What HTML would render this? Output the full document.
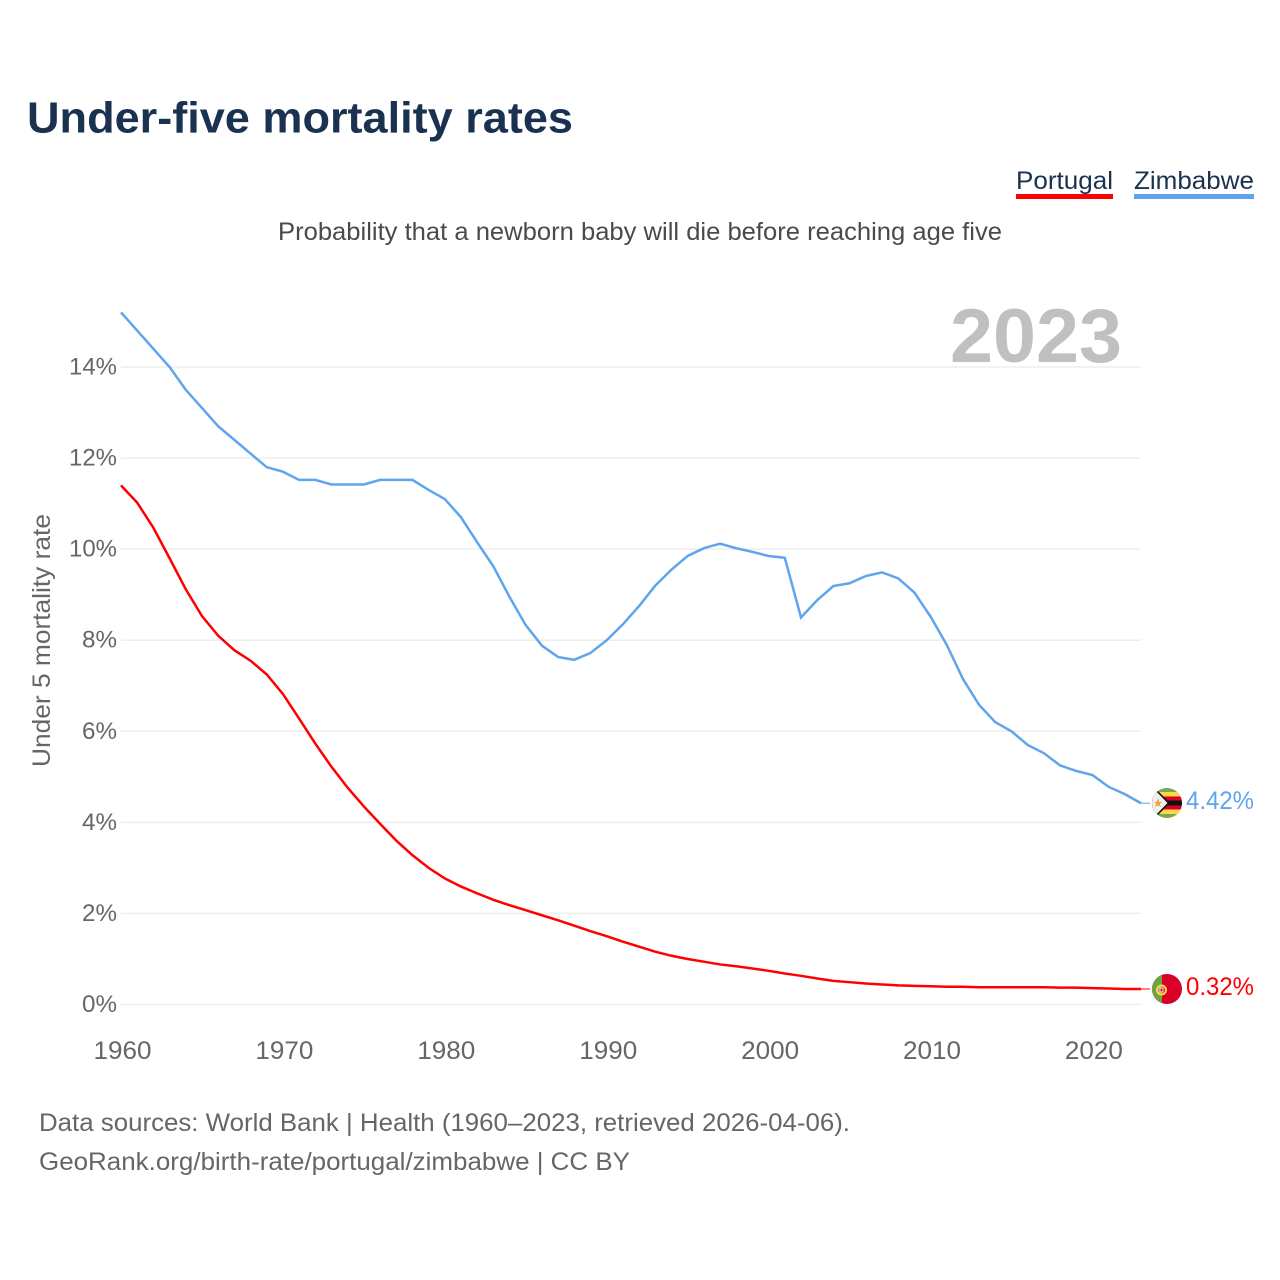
<!DOCTYPE html>
<html lang="en">
<head>
<meta charset="utf-8">
<title>Under-five mortality rates</title>
<style>
html,body{margin:0;padding:0;background:#fff;}
svg{display:block;font-family:"Liberation Sans",sans-serif;}
</style>
</head>
<body>
<svg id="chart" xmlns="http://www.w3.org/2000/svg" width="1280" height="1280" viewBox="0 0 1280 1280">
  <defs>
    <clipPath id="flag-clip-zw"><circle cx="1167" cy="803" r="15"/></clipPath>
    <clipPath id="flag-clip-pt"><circle cx="1167" cy="989" r="15"/></clipPath>
  </defs>
  <rect width="1280" height="1280" fill="#fff"/>
  <text x="27" y="132.500" font-size="44" font-weight="700" fill="#1a3150" textLength="546" lengthAdjust="spacingAndGlyphs">Under-five mortality rates</text>
  <g>
    <text x="1016" y="189" font-size="25" fill="#1a3150" textLength="97" lengthAdjust="spacingAndGlyphs">Portugal</text>
    <rect x="1016" y="194" width="97" height="5" fill="#ff0000"/>
  </g>
  <g>
    <text x="1134" y="189" font-size="25" fill="#1a3150" textLength="120" lengthAdjust="spacingAndGlyphs">Zimbabwe</text>
    <rect x="1134" y="194" width="120" height="5" fill="#5fa5ee"/>
  </g>
  <text x="278" y="240" font-size="25" fill="#4a4a4a" textLength="724" lengthAdjust="spacingAndGlyphs">Probability that a newborn baby will die before reaching age five</text>
  <g id="grid"></g>
  <text x="950" y="362" font-size="76" font-weight="700" fill="#c0c0c0" textLength="172" lengthAdjust="spacingAndGlyphs">2023</text>
  <g id="y-ticks"></g>
  <g id="x-ticks"></g>
  <text transform="translate(50,767) rotate(-90)" font-size="25" fill="#666" textLength="253" lengthAdjust="spacingAndGlyphs">Under 5 mortality rate</text>
  <g id="series"></g>

  <g clip-path="url(#flag-clip-zw)">
    <rect x="1152" y="788" width="30" height="30" fill="#78a84e"/>
    <rect x="1152" y="792" width="30" height="4.500" fill="#ffd84a"/>
    <rect x="1152" y="796.500" width="30" height="4" fill="#d80027"/>
    <rect x="1152" y="800.500" width="30" height="5" fill="#111"/>
    <rect x="1152" y="805.500" width="30" height="4" fill="#d80027"/>
    <rect x="1152" y="809.500" width="30" height="4.500" fill="#ffd84a"/>
    <polygon points="1152,786 1153,786 1170,803 1153,820 1152,820" fill="#111"/>
    <polygon points="1150,786 1151,786 1167.500,803 1151,820 1150,820" fill="#f0f0f0"/>
    <polygon points="1158,798.500 1159.300,801.700 1162,802 1159.800,803.900 1160.800,807 1158,805.400 1155.200,807 1156.200,803.900 1154,802 1156.700,801.700" fill="#f2a33a"/>
  </g>
  <g clip-path="url(#flag-clip-pt)">
    <rect x="1152" y="974" width="30" height="30" fill="#d80027"/>
    <rect x="1152" y="974" width="10" height="30" fill="#6da544"/>
    <circle cx="1161.500" cy="990" r="4.500" fill="none" stroke="#ffda44" stroke-width="2"/>
    <rect x="1160" y="988" width="3" height="4" fill="#d80027" stroke="#f0f0f0" stroke-width="1"/>
  </g>
  <text x="1186" y="809" font-size="25" fill="#5fa5ee" textLength="68" lengthAdjust="spacingAndGlyphs">4.42%</text>
  <text x="1186" y="995" font-size="25" fill="#ff0000" textLength="68" lengthAdjust="spacingAndGlyphs">0.32%</text>

  <text x="39" y="1131" font-size="25" fill="#666" textLength="811" lengthAdjust="spacingAndGlyphs">Data sources: World Bank | Health (1960–2023, retrieved 2026-04-06).</text>
  <text x="39" y="1170" font-size="25" fill="#666" textLength="591" lengthAdjust="spacingAndGlyphs">GeoRank.org/birth-rate/portugal/zimbabwe | CC BY</text>
</svg>
<script>
const startYear = 1960;
const yTickValues = [0, 2, 4, 6, 8, 10, 12, 14];
const xTickValues = [1960, 1970, 1980, 1990, 2000, 2010, 2020];
const zimbabweValues = [15.2,14.8,14.4,14.0,13.5,13.1,12.7,12.4,12.1,11.8,
  11.7,11.52,11.52,11.42,11.42,11.42,11.52,11.52,11.52,11.3,
  11.1,10.7,10.15,9.62,8.95,8.33,7.88,7.63,7.57,7.72,
  8.0,8.35,8.75,9.2,9.55,9.85,10.02,10.12,10.02,9.94,
  9.85,9.81,8.5,8.88,9.19,9.25,9.41,9.49,9.36,9.05,
  8.52,7.9,7.15,6.58,6.2,6.0,5.7,5.52,5.25,5.13,
  5.04,4.78,4.62,4.42];
const portugalValues = [11.4,11.02,10.47,9.8,9.12,8.53,8.1,7.78,7.55,7.25,
  6.82,6.28,5.73,5.22,4.76,4.35,3.97,3.6,3.28,3.0,
  2.77,2.59,2.44,2.3,2.18,2.07,1.96,1.85,1.73,1.61,
  1.5,1.38,1.27,1.16,1.07,1.0,0.94,0.88,0.84,0.79,
  0.74,0.68,0.63,0.57,0.52,0.49,0.46,0.44,0.42,0.41,
  0.4,0.39,0.39,0.38,0.38,0.38,0.38,0.38,0.37,0.37,
  0.36,0.35,0.34,0.34];

const NS = 'http://www.w3.org/2000/svg';
function xScale(year) { return 121 + (year - 1960) * (1141 - 121) / 63; }
function yScale(value) { return 1004.5 - value * (1004.5 - 367) / 14; }
function make(tag, parentId) {
  const el = document.createElementNS(NS, tag);
  document.getElementById(parentId).appendChild(el);
  return el;
}

yTickValues.forEach(function (v) {
  const line = make('line', 'grid');
  
  
  line.setAttribute('x1', 121);
  line.setAttribute('x2', 1141);
  line.setAttribute('y1', yScale(v));
  line.setAttribute('y2', yScale(v));
  line.setAttribute('stroke', '#eeeeee');
  line.setAttribute('stroke-width', '1.5');

  const label = make('text', 'y-ticks');
  
  
  label.setAttribute('x', 117);
  label.setAttribute('y', yScale(v) + 7.5);
  label.setAttribute('text-anchor', 'end');
  label.setAttribute('font-size', '24');
  label.setAttribute('fill', '#666');
  label.setAttribute('textLength', v >= 10 ? 48 : 35);
  label.setAttribute('lengthAdjust', 'spacingAndGlyphs');
  label.textContent = v + '%';
});

xTickValues.forEach(function (year) {
  const label = make('text', 'x-ticks');
  
  
  label.setAttribute('x', xScale(year) + 1.5);
  label.setAttribute('y', 1059);
  label.setAttribute('text-anchor', 'middle');
  label.setAttribute('font-size', '25');
  label.setAttribute('fill', '#666');
  label.setAttribute('textLength', 58);
  label.setAttribute('lengthAdjust', 'spacingAndGlyphs');
  label.textContent = year;
});

function linePoints(values) {
  return values.map(function (v, i) {
    return xScale(startYear + i).toFixed(2) + ',' + yScale(v).toFixed(2);
  }).join(' ');
}

const zimbabweLine = make('polyline', 'series');


zimbabweLine.setAttribute('points', linePoints(zimbabweValues));
zimbabweLine.setAttribute('fill', 'none');
zimbabweLine.setAttribute('stroke', '#5fa5ee');
zimbabweLine.setAttribute('stroke-width', '2.5');

const zimbabweLead = make('line', 'series');


zimbabweLead.setAttribute('x1', xScale(2023));
zimbabweLead.setAttribute('x2', 1150);
zimbabweLead.setAttribute('y1', yScale(zimbabweValues[zimbabweValues.length - 1]));
zimbabweLead.setAttribute('y2', yScale(zimbabweValues[zimbabweValues.length - 1]));
zimbabweLead.setAttribute('stroke', '#5fa5ee');
zimbabweLead.setAttribute('stroke-width', '1');

const portugalLine = make('polyline', 'series');


portugalLine.setAttribute('points', linePoints(portugalValues));
portugalLine.setAttribute('fill', 'none');
portugalLine.setAttribute('stroke', '#ff0000');
portugalLine.setAttribute('stroke-width', '2.5');

const portugalLead = make('line', 'series');


portugalLead.setAttribute('x1', xScale(2023));
portugalLead.setAttribute('x2', 1150);
portugalLead.setAttribute('y1', yScale(portugalValues[portugalValues.length - 1]));
portugalLead.setAttribute('y2', yScale(portugalValues[portugalValues.length - 1]));
portugalLead.setAttribute('stroke', '#ff0000');
portugalLead.setAttribute('stroke-width', '1');
</script>
</body>
</html>
